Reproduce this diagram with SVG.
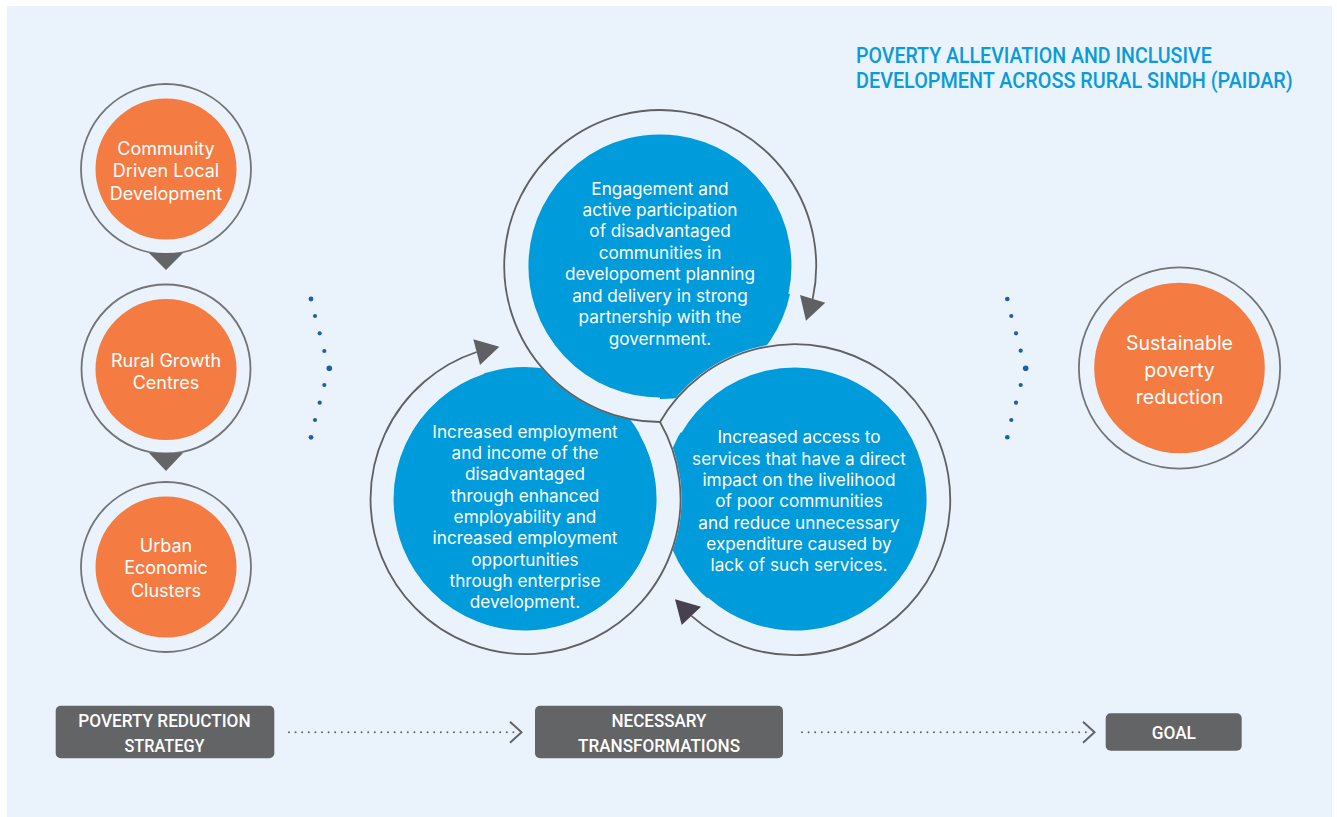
<svg xmlns="http://www.w3.org/2000/svg" width="1337" height="817" viewBox="0 0 1337 817">
<style>
.bg{fill:#EAF2FB}
.band{fill:none;stroke:#EAF2FB;stroke-width:25}
.ring{fill:#EAF2FB;stroke:#737476;stroke-width:1.8}
.arc{fill:none;stroke:#5F6062;stroke-width:1.8}
.org{fill:#F47C43}
.blu{fill:#009BDA}
.ot{font-family:Inter,"Open Sans",sans-serif;font-size:18px;fill:#FFFFFF;text-anchor:middle}
.bt{font-family:Inter,"Open Sans",sans-serif;font-size:17.2px;fill:#FFFFFF;text-anchor:middle}
.title{font-family:Roboto,"Liberation Sans",sans-serif;font-weight:500;font-size:21.5px;fill:#0A9BD9}
.box{fill:#636466}
.bl{font-family:Roboto,"Liberation Sans",sans-serif;font-weight:500;font-size:18.5px;fill:#FFFFFF;text-anchor:middle}
.tri{fill:#646567}
.dot{fill:#1E5FA6}
.dash{fill:none;stroke:#636466;stroke-width:2;stroke-linecap:round;stroke-dasharray:0 6.6}
.chev{fill:none;stroke:#636466;stroke-width:2}
</style>
<rect class="bg" x="7" y="6" width="1325" height="811"/>

<text class="title" x="856" y="62.7" textLength="355.7" lengthAdjust="spacingAndGlyphs">POVERTY ALLEVIATION AND INCLUSIVE</text>
<text class="title" x="856" y="88.3" textLength="436.7" lengthAdjust="spacingAndGlyphs">DEVELOPMENT ACROSS RURAL SINDH (PAIDAR)</text>

<g id="node-cdld">
<circle class="ring" cx="166" cy="169" r="85"/>
<circle class="org" cx="166" cy="169" r="70.5"/>
<text class="ot" x="166" y="154.5">Community</text>
<text class="ot" x="166" y="177">Driven Local</text>
<text class="ot" x="166" y="199.5">Development</text>
</g>
<g id="node-rgc">
<circle class="ring" cx="166" cy="369" r="84.5"/>
<circle class="org" cx="166" cy="369.5" r="70.5"/>
<text class="ot" x="166" y="366.5">Rural Growth</text>
<text class="ot" x="166" y="389">Centres</text>
</g>
<g id="node-uec">
<circle class="ring" cx="166" cy="567" r="85"/>
<circle class="org" cx="166" cy="567" r="70.5"/>
<text class="ot" x="166" y="551.5">Urban</text>
<text class="ot" x="166" y="574">Economic</text>
<text class="ot" x="166" y="596.5">Clusters</text>
</g>

<g id="node-goal-circle">
<circle class="ring" cx="1179.5" cy="368" r="100.6"/>
<circle class="org" cx="1179.5" cy="368" r="85.3"/>
<text class="ot" style="font-size:19.5px" x="1179.5" y="350.3">Sustainable</text>
<text class="ot" style="font-size:19.5px" x="1179.5" y="377">poverty</text>
<text class="ot" style="font-size:19.5px" x="1179.5" y="403.7">reduction</text>
</g>

<g id="node-services">
<circle class="blu" cx="795" cy="499" r="132.5"/>
</g>
<g id="node-employment">
<circle class="blu" cx="525" cy="499" r="132"/>
</g>
<g id="node-engagement">
<circle class="blu" cx="660" cy="266" r="133"/>
</g>

<g id="ring-gaps">
<path class="band" d="M660,410 A144,144 0 1 1 800.7,296.4"/>
<path class="band" d="M650,427.4 A144,144 0 1 1 480,362.2"/>
<path class="band" d="M670.7,426.4 A144,144 0 1 1 699.6,606.9"/>
</g>

<g id="labels-central">
<text class="bt" x="660" y="194.5">Engagement and</text>
<text class="bt" x="660" y="215.9">active participation</text>
<text class="bt" x="660" y="237.4">of disadvantaged</text>
<text class="bt" x="660" y="258.8">communities in</text>
<text class="bt" x="660" y="280.2">developoment planning</text>
<text class="bt" x="660" y="301.6">and delivery in strong</text>
<text class="bt" x="660" y="323.1">partnership with the</text>
<text class="bt" x="660" y="344.5">government.</text>

<text class="bt" x="525" y="437.7">Increased employment</text>
<text class="bt" x="525" y="459">and income of the</text>
<text class="bt" x="525" y="480.3">disadvantaged</text>
<text class="bt" x="525" y="501.6">through enhanced</text>
<text class="bt" x="525" y="522.9">employability and</text>
<text class="bt" x="525" y="544.2">increased employment</text>
<text class="bt" x="525" y="565.5">opportunities</text>
<text class="bt" x="525" y="586.8">through enterprise</text>
<text class="bt" x="525" y="608.1">development.</text>

<text class="bt" x="799" y="443.3">Increased access to</text>
<text class="bt" x="799" y="464.6">services that have a direct</text>
<text class="bt" x="799" y="485.9">impact on the livelihood</text>
<text class="bt" x="799" y="507.2">of poor communities</text>
<text class="bt" x="799" y="528.5">and reduce unnecessary</text>
<text class="bt" x="799" y="549.8">expenditure caused by</text>
<text class="bt" x="799" y="571.1">lack of such services.</text>
</g>

<g id="connectors">
<polygon class="tri" points="149,253 183,253 166,270"/>
<polygon class="tri" points="149,453 183,453 166,471"/>

<path class="arc" d="M660,422 A156,156 0 1 1 812.7,298.9"/>
<polygon fill="#5F6062" points="800,295 825.3,302.7 806,320.7"/>
<path class="arc" d="M660,422 A155,155 0 1 1 476.7,352"/>
<polygon fill="#5F6062" points="473.3,339.3 499.3,346.7 480,365"/>
<path class="arc" d="M660,422 A155.5,155.5 0 1 1 691.4,615.9"/>
<polygon fill="#46404F" points="675,599.3 701,606.7 681.7,625"/>

<circle class="dot" cx="311" cy="299" r="2.4"/>
<circle class="dot" cx="315" cy="316" r="2.1"/>
<circle class="dot" cx="319.7" cy="333.3" r="2.1"/>
<circle class="dot" cx="324.3" cy="351" r="2.1"/>
<circle class="dot" cx="329.3" cy="368.3" r="2.8"/>
<circle class="dot" cx="324.3" cy="385" r="2.1"/>
<circle class="dot" cx="319.7" cy="402.7" r="2.1"/>
<circle class="dot" cx="315" cy="420" r="2.1"/>
<circle class="dot" cx="311" cy="437.3" r="2.4"/>

<circle class="dot" cx="1007.3" cy="299" r="2.3"/>
<circle class="dot" cx="1011.3" cy="316" r="2.1"/>
<circle class="dot" cx="1016" cy="333.3" r="2.1"/>
<circle class="dot" cx="1020.7" cy="350.7" r="2.1"/>
<circle class="dot" cx="1025.7" cy="368.3" r="2.8"/>
<circle class="dot" cx="1020.7" cy="385" r="2.1"/>
<circle class="dot" cx="1016" cy="402.7" r="2.1"/>
<circle class="dot" cx="1011.3" cy="420" r="2.1"/>
<circle class="dot" cx="1007.3" cy="437.3" r="2.3"/>

<line class="dash" x1="289" y1="732.3" x2="516" y2="732.3"/>
<polyline class="chev" points="510,721.8 521.5,732.3 510,742.8"/>
<line class="dash" x1="802" y1="732.3" x2="1089" y2="732.3"/>
<polyline class="chev" points="1083,721.8 1094.5,732.3 1083,742.8"/>
</g>

<g id="node-strategy">
<rect class="box" x="55.7" y="705.7" width="218.6" height="52.6" rx="5"/>
<text class="bl" x="164.5" y="727.3" textLength="172.3" lengthAdjust="spacingAndGlyphs">POVERTY REDUCTION</text>
<text class="bl" x="164.5" y="751.7" textLength="80" lengthAdjust="spacingAndGlyphs">STRATEGY</text>
</g>
<g id="node-transformations">
<rect class="box" x="535" y="705.7" width="248" height="52.6" rx="5"/>
<text class="bl" x="659" y="727.3" textLength="95" lengthAdjust="spacingAndGlyphs">NECESSARY</text>
<text class="bl" x="659" y="751.7" textLength="162" lengthAdjust="spacingAndGlyphs">TRANSFORMATIONS</text>
</g>
<g id="node-goal">
<rect class="box" x="1105.7" y="713.3" width="136" height="37.4" rx="5"/>
<text class="bl" x="1173.8" y="739" textLength="44.3" lengthAdjust="spacingAndGlyphs">GOAL</text>
</g>
</svg>
